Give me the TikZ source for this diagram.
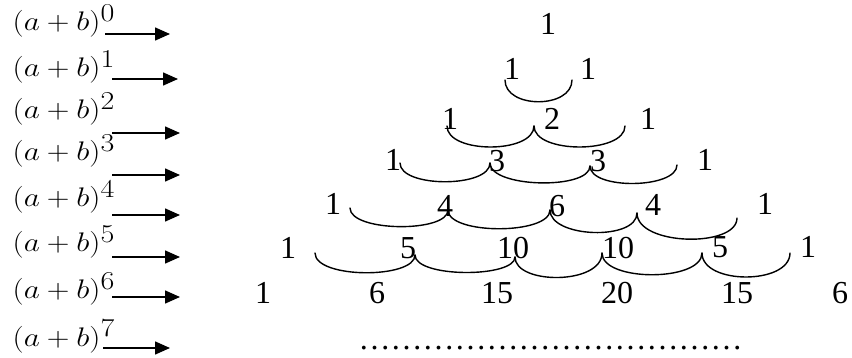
\documentclass[tikz,border=0pt]{standalone}
\usepackage{fontspec}
\setmainfont{Liberation Serif}
\usetikzlibrary{arrows.meta}
\newcommand{\powerlabel}[1]{\scalebox{1.26}[1.08]{\fontsize{24.88}{30}\selectfont$(a+b)^{\scalebox{1.15}{$\scriptstyle #1$}}$}}
\tikzset{
  num/.style={inner sep=0pt, font=\fontsize{32}{38}\selectfont},
  power/.style={inner sep=0pt, anchor=base west},
  rowarrow/.style={line width=1.5pt, -{Triangle[length=15pt,width=13pt]}},
  brace/.style={line width=1.4pt, line cap=round},
}
\begin{document}
\begin{tikzpicture}[x=1pt,y=-1pt]
\useasboundingbox (0,0) rectangle (852,358);

% powers of (a+b) on the left, each with its arrow
\foreach \k/\yb/\ya/\xs/\xe in {0/31/34/105/170, 1/77/79/112/178, 2/119/133/112/180,
    3/161/175/112/180, 4/207/215/112/180, 5/252/257/112/180, 6/299/297/112/180,
    7/346/348/103/170}{
  \node[power] (p\k) at (12.5,\yb) {\powerlabel{\k}};
  \coordinate (s\k) at (\xs,\ya);
  \coordinate (e\k) at (\xe,\ya);
  \draw[rowarrow] (s\k) -- (e\k);
}

% row 0
\node[num] (r0a) at (548,24) {1};
% row 1
\node[num] (r1a) at (512,69) {1};
\node[num] (r1b) at (588,69) {1};
% row 2
\node[num] (r2a) at (450,119) {1};
\node[num] (r2b) at (552,119) {2};
\node[num] (r2c) at (648,119) {1};
% row 3
\node[num] (r3a) at (393,160) {1};
\node[num] (r3b) at (497,161) {3};
\node[num] (r3c) at (598,161) {3};
\node[num] (r3d) at (705,160) {1};
% row 4
\node[num] (r4a) at (333,204) {1};
\node[num] (r4b) at (445,206) {4};
\node[num] (r4c) at (557,206) {6};
\node[num] (r4d) at (653,205) {4};
\node[num] (r4e) at (765,204) {1};
% row 5
\node[num] (r5a) at (288,248) {1};
\node[num] (r5b) at (408,248) {5};
\node[num] (r5c) at (513,248) {10};
\node[num] (r5d) at (618,248) {10};
\node[num] (r5e) at (720,247) {5};
\node[num] (r5f) at (808,247) {1};
% row 6
\node[num] (r6a) at (263,293) {1};
\node[num] (r6b) at (377,293) {6};
\node[num] (r6c) at (497,293) {15};
\node[num] (r6d) at (617,293) {20};
\node[num] (r6e) at (737,293) {15};
\node[num] (r6f) at (840,293) {6};
% row 7: twelve ellipsis characters
\node[inner sep=0pt, anchor=base west, font=\fontsize{32}{38}\selectfont] (r7) at (358.5,349.5)
  {{…}{…}{…}{…}{…}{…}{…}{…}{…}{…}{…}{…}};

% end points of the joining braces
\coordinate (b1a) at (505,80);  \coordinate (b1b) at (572,80);
\coordinate (b2a) at (447,126); \coordinate (b2b) at (534,126); \coordinate (b2c) at (625,126);
\coordinate (b3a) at (400,163); \coordinate (b3b) at (490,163); \coordinate (b3c) at (590,166);
\coordinate (b3d) at (677,165);
\coordinate (b4a) at (350,208); \coordinate (b4b) at (448,210); \coordinate (b4c) at (550,210);
\coordinate (b4d) at (637,213); \coordinate (b4e) at (737,218);
\coordinate (b5a) at (315,253); \coordinate (b5b) at (415,255); \coordinate (b5c) at (515,257);
\coordinate (b5d) at (602,253); \coordinate (b5e) at (702,253); \coordinate (b5f) at (790,253);

\draw[brace] (b1a) .. controls +(0,29) and +(0,29) .. (b1b);

\draw[brace] (b2a) .. controls +(0,28) and +(0,28) .. (b2b);
\draw[brace] (b2b) .. controls +(0,28) and +(0,28) .. (b2c);

\draw[brace] (b3a) .. controls +(0,25) and +(0,25) .. (b3b);
\draw[brace] (b3b) .. controls +(0,25) and +(0,24) .. (b3c);
\draw[brace] (b3c) .. controls +(0,24) and +(0,24) .. (b3d);

\draw[brace] (b4a) .. controls +(0,24) and +(0,23) .. (b4b);
\draw[brace] (b4b) .. controls +(0,25) and +(0,25) .. (b4c);
\draw[brace] (b4c) .. controls +(0,28) and +(0,28) .. (b4d);
\draw[brace] (b4d) .. controls +(0,33) and +(0,30) .. (b4e);

\draw[brace] (b5a) .. controls +(0,26) and +(0,24) .. (b5b);
\draw[brace] (b5b) .. controls +(0,23) and +(0,21) .. (b5c);
\draw[brace] (b5c) .. controls +(0,28) and +(0,32) .. (b5d);
\draw[brace] (b5d) .. controls +(0,29) and +(0,29) .. (b5e);
\draw[brace] (b5e) .. controls +(0,32) and +(0,32) .. (b5f);
\end{tikzpicture}
\end{document}
